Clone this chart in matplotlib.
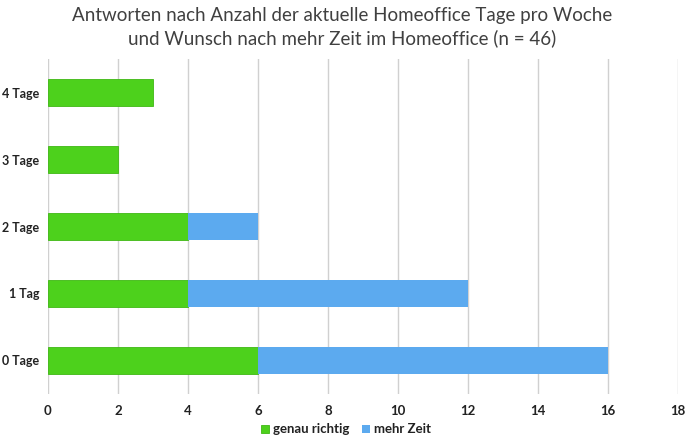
import matplotlib
matplotlib.use("Agg")
import matplotlib.pyplot as plt
import numpy as np

# Data
categories = ["0 Tage", "1 Tag", "2 Tage", "3 Tage", "4 Tage"]
genau_richtig = [6, 4, 4, 2, 3]
mehr_zeit = [10, 8, 2, 0, 0]
x_ticks = [0, 2, 4, 6, 8, 10, 12, 14, 16, 18]

green = "#4dd11c"
blue = "#5caaef"

plt.rcParams['font.family'] = ['Lato', 'DejaVu Sans']

fig = plt.figure(figsize=(6.85, 4.45), dpi=100)
ax = fig.add_axes([0.070, 0.115, 0.92, 0.752])

y = np.arange(len(categories))
ax.barh(y, genau_richtig, height=0.4, color=green, edgecolor="#3fb814", linewidth=0.6,
        label="genau richtig", zorder=3)
ax.barh(y, mehr_zeit, left=genau_richtig, height=0.4, color=blue, edgecolor="none",
        label="mehr Zeit", zorder=3)

ax.set_xlim(0, 18)
ax.set_ylim(-0.5, 4.5)
ax.set_xticks(x_ticks)
ax.set_yticks(y)
ax.set_yticklabels(categories)
ax.tick_params(axis="x", length=0, labelsize=9.5, colors="#222222", pad=8)
ax.tick_params(axis="y", length=0, labelsize=9, colors="#222222", pad=6)
for lbl in ax.get_xticklabels() + ax.get_yticklabels():
    lbl.set_fontweight("bold")
ax.grid(axis="x", color="#d0d0d0", linewidth=1, zorder=0)
for s in ax.spines.values():
    s.set_visible(False)

fig.suptitle("Antworten nach Anzahl der aktuelle Homeoffice Tage pro Woche\n"
             "und Wunsch nach mehr Zeit im Homeoffice (n = 46)",
             y=0.985, fontsize=13.5, color="#404040", linespacing=1.35)

leg = fig.legend(loc="lower center", bbox_to_anchor=(0.505, -0.005), ncol=2, frameon=False,
                 fontsize=9.5, handlelength=0.6, handleheight=0.6, handletextpad=0.3,
                 columnspacing=1.0)
for t in leg.get_texts():
    t.set_fontweight("bold")
    t.set_color("#222222")

fig.savefig("out.png", dpi=100)
